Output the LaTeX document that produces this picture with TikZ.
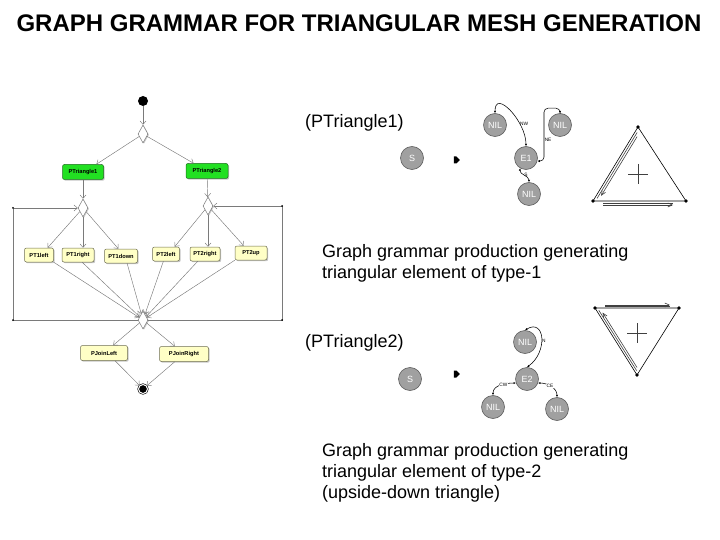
\documentclass[tikz,border=0pt]{standalone}
\usepackage{fontspec}
\setmainfont{Liberation Sans}
\usetikzlibrary{arrows.meta, calc, shapes.geometric, shapes.symbols, shadows}
\definecolor{cLine}{HTML}{7A7A7A}
\definecolor{cGreen}{HTML}{22E022}
\definecolor{cGreenB}{HTML}{1E6E1E}
\definecolor{cYel}{HTML}{FFFFC6}
\definecolor{cYelB}{HTML}{6E6E50}
\definecolor{cNode}{HTML}{A0A0A0}
\definecolor{cNodeB}{HTML}{5E5E5E}
\definecolor{cMove}{HTML}{404040}
\tikzset{
    act/.style   ={draw, rounded corners=2pt, line width=0.5pt, inner sep=0pt,
                   font=\bfseries\fontsize{5.7}{6}\selectfont, minimum height=14pt,
                   drop shadow={shadow xshift=1.2pt, shadow yshift=-1.2pt,
                   opacity=0.45, fill=gray}},
    grn/.style   ={act, draw=cGreenB, fill=cGreen, minimum height=15pt},
    yel/.style   ={act, draw=cYelB, fill=cYel},
    dec/.style   ={diamond, draw=cLine, fill=white, line width=0.5pt, inner sep=0pt,
                   minimum width=10pt, minimum height=18pt,
                   drop shadow={shadow xshift=1pt, shadow yshift=-0.8pt,
                   opacity=0.4, fill=gray}},
    flow/.style  ={-{Straight Barb[length=3.5pt,width=6pt]}, draw=cLine, line width=0.45pt},
    gnode/.style ={circle, fill=cNode, draw=cNodeB, line width=0.6pt, minimum size=23pt,
                   inner sep=0pt, text=white, font=\fontsize{9}{10}\selectfont},
    gedge/.style ={{Latex[length=2.4pt,width=2.2pt]}-{Latex[length=2.4pt,width=2.2pt]},
                   line width=0.55pt, black},
    elab/.style  ={font=\fontsize{4.8}{5}\selectfont, inner sep=0.5pt},
    prodmark/.style={signal, signal to=east, fill=black, minimum width=6pt,
                   minimum height=7pt, inner sep=0pt},
    tri/.style   ={line width=0.6pt, black},
    mv/.style    ={line width=0.6pt, cMove},
    mvtip/.style ={mv, -{Straight Barb[length=4.5pt,width=4pt]}},
    txt/.style   ={font=\fontsize{18}{21}\selectfont, inner sep=0pt, align=left},
}

\begin{document}
\begin{tikzpicture}[x=1pt, y=-1pt]
\useasboundingbox (0,0) rectangle (720,540);

% ===================== Title =====================
\node[font=\bfseries\fontsize{24}{27}\selectfont, anchor=base] (title) at (359,32)
     {GRAPH GRAMMAR FOR TRIANGULAR MESH GENERATION};

% ===================== Activity diagram =====================
\node[circle, fill=black, minimum size=10pt, inner sep=0pt] (start) at (143,101) {};
\node[dec] (fork1) at (143,134) {};
\node[grn, minimum width=41pt] (ptri1) at (83,172) {PTriangle1};
\node[grn, minimum width=42pt] (ptri2) at (207,171) {PTriangle2};
\node[dec] (fork2) at (83,208) {};
\node[dec] (fork3) at (208,206) {};

\node[yel, minimum width=29pt] (pt1l) at (39,255)  {PT1left};
\node[yel, minimum width=32pt] (pt1r) at (78,255)  {PT1right};
\node[yel, minimum width=33pt] (pt1d) at (121,256) {PT1down};
\node[yel, minimum width=27pt] (pt2l) at (166,254) {PT2left};
\node[yel, minimum width=30pt] (pt2r) at (205,254) {PT2right};
\node[yel, minimum width=32pt] (pt2u) at (251,253) {PT2up};

\node[dec] (merge) at (143,320) {};
\node[yel, minimum width=47pt, minimum height=15pt] (pjl) at (104,353) {PJoinLeft};
\node[yel, minimum width=49pt, minimum height=15pt] (pjr) at (184,354) {PJoinRight};
\node[circle, fill=black, draw=black, double=white, double distance=1pt,
      line width=0.6pt, minimum size=9pt, inner sep=0pt] (stop) at (143,389) {};

\draw[flow] (start) -- (fork1);
\draw[flow] (fork1) -- (ptri1.30);
\draw[flow] (fork1) -- (ptri2.150);
\draw[flow] (ptri1) -- (fork2);
\draw[flow] (ptri2) -- (fork3);

\draw[flow] (fork2) -- (pt1l.40);
\draw[flow] (fork2.south) -- (fork2.south |- pt1r.north);
\draw[flow] (fork2) -- (pt1d.110);
\draw[flow] (fork3) -- (pt2l.40);
\draw[flow] (fork3.south) -- (fork3.south |- pt2r.north);
\draw[flow] (fork3) -- (pt2u.135);

\foreach \b/\a in {pt1l/south east, pt1r/-60, pt1d/-50, pt2l/-110, pt2r/-135, pt2u/south west}
    \draw[flow] (\b.\a) -- (merge);

\draw[flow] (merge) -- (pjl.40);
\draw[flow] (merge) -- (pjr.140);
\draw[flow] (pjl.-35) -- (stop);
\draw[flow] (pjr.-140) -- (stop);

% loop back
\coordinate (lt) at (13,208);
\coordinate (lb) at (13,320);
\coordinate (rt) at (282,206);
\coordinate (rb) at (282,320);
\draw[flow] (merge) -- (lb) -- (lt) -- (fork2);
\draw[flow] (merge) -- (rb) -- (rt) -- (fork3);
\foreach \c in {lt,lb,rt,rb} \fill (\c) circle (1pt);

% ===================== Production 1 =====================
\node[txt, anchor=base west] (lab1) at (305,128) {(PTriangle1)};
\node[gnode] (s1)  at (412,158) {S};
\node[prodmark] (pm1) at (455,160) {};
\node[gnode] (nw1) at (495,125) {NIL};
\node[gnode] (ne1) at (560,125) {NIL};
\node[gnode] (e1)  at (526,158) {E1};
\node[gnode] (so1) at (529,194) {NIL};
\draw[gedge] (e1.north) to[out=90, in=90, looseness=1.4]
      node[elab, pos=0.3, right] {NW} (nw1.north);
\draw[gedge, rounded corners=4pt] (e1.-15) -| ([xshift=-16pt, yshift=5pt]ne1.north)
      node[elab, pos=0.7, right] {NE} -| (ne1.north);
\draw[gedge] (e1.-120) to[out=-95, in=90] node[elab, pos=0.45, right] {S} (so1.north);

% triangle 1
\coordinate (ta) at (638,127);
\coordinate (tb) at (593,201);
\coordinate (tc) at (686,201);
\draw[tri] (ta) -- (tb) -- (tc) -- cycle;
\foreach \p in {ta,tb,tc} \fill (\p) circle (1.8pt);
\draw[line width=0.6pt, cMove] (628,174) -- (648,174) (638,164) -- (638,184);
\draw[mv] ($(ta)!0.06!(tb)+(1.8,1.1)$) -- ($(ta)!0.95!(tb)+(1.8,1.1)$);
\draw[mvtip] ($(ta)!0.1!(tb)+(3.6,2.2)$) -- ($(ta)!0.9!(tb)+(3.6,2.2)$);
\draw[mv] (603,203.5) -- (673,203.5);
\draw[mvtip] (603,205) -- (673,205);

\node[txt, anchor=north west] (desc1) at (322,244)
     {Graph grammar production generating\\triangular element of type-1};

% ===================== Production 2 =====================
\node[txt, anchor=base west] (lab2) at (305,347) {(PTriangle2)};
\node[gnode] (s2)  at (410,379) {S};
\node[prodmark] (pm2) at (455,374) {};
\node[gnode] (n2)  at (525,342) {NIL};
\node[gnode] (e2)  at (527,379) {E2};
\node[gnode] (cw2) at (493,407) {NIL};
\node[gnode] (ce2) at (557,409) {NIL};
\draw[gedge] (e2.north) .. controls (548,352) and (545,318) .. (n2.north)
      node[elab, pos=0.45, right] {N};
\draw[gedge] (e2.200) to[out=180, in=90] node[elab, fill=white, pos=0.4] {CW} (cw2.north);
\draw[gedge] (e2.-20) to[out=0, in=90] node[elab, fill=white, pos=0.45] {CE} (ce2.north);

% triangle 2
\coordinate (ua) at (595,308);
\coordinate (ub) at (679,308);
\coordinate (uc) at (637,375);
\draw[tri] (ua) -- (ub) -- (uc) -- cycle;
\foreach \p in {ua,ub,uc} \fill (\p) circle (1.8pt);
\draw[line width=0.6pt, cMove] (627,333) -- (647,333) (637,323) -- (637,343);
\draw[mv] (605,306.5) -- (670,306.5);
\draw[mvtip] (605,305) -- (670,305);
\draw[mv] ($(uc)!0.05!(ua)+(1.7,-1.06)$) -- ($(uc)!0.95!(ua)+(1.7,-1.06)$);
\draw[mvtip] ($(uc)!0.08!(ua)+(3.4,-2.1)$) -- ($(uc)!0.9!(ua)+(3.4,-2.1)$);

\node[txt, anchor=north west] (desc2) at (322,443)
     {Graph grammar production generating\\triangular element of type-2\\(upside-down triangle)};

\end{tikzpicture}
\end{document}
